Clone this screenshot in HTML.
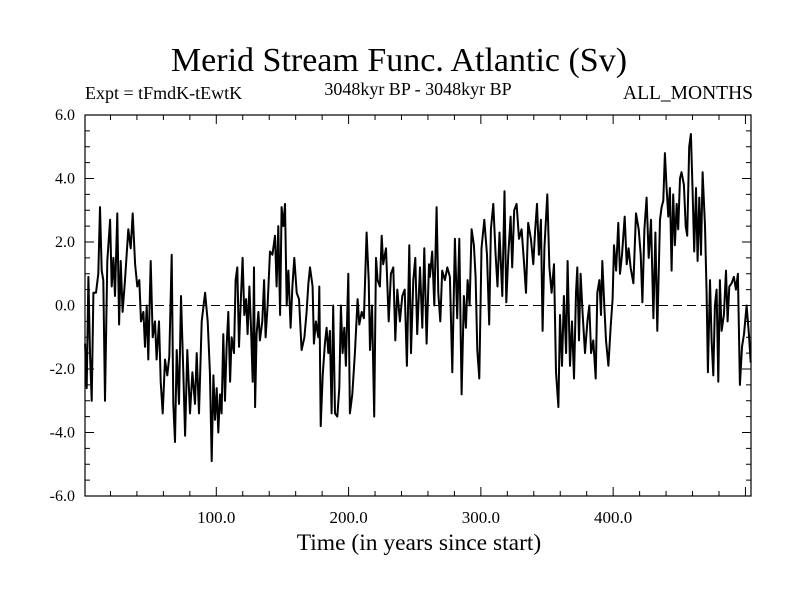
<!DOCTYPE html>
<html><head><meta charset="utf-8">
<style>
html,body{margin:0;padding:0;background:#fff;}
svg{display:block;font-family:"Liberation Serif",serif;}
</style></head>
<body>
<svg id="chart" width="800" height="600" viewBox="0 0 800 600">
<rect width="800" height="600" fill="#fff"/>
<text x="399" y="71" font-size="34" text-anchor="middle">Merid Stream Func. Atlantic (Sv)</text>
<text x="85" y="99" font-size="18">Expt = tFmdK-tEwtK</text>
<text x="418" y="95" font-size="18" text-anchor="middle">3048kyr BP - 3048kyr BP</text>
<text x="753" y="99" font-size="19.5" text-anchor="end">ALL_MONTHS</text>
<text x="419" y="550" font-size="23.5" text-anchor="middle">Time (in years since start)</text>
<g id="axes"></g>
<g id="plot"></g>
</svg>
<script>
const years = [0.8,2,3.3,4.5,5.8,7.1,9.1,10.8,12.1,13.4,14.6,15.9,17.6,19.7,20.9,22.2,23.4,25.2,26.5,27.7,29.2,31,33.5,35.3,36.8,38.6,40.3,41.8,43.1,44.9,46.1,47.4,48.6,50.4,51.9,53.7,54.9,56.7,58,59.5,61.2,63,64.5,66.3,67.5,68.8,70.1,71.8,73.3,75.1,76.4,78.1,80.1,81.9,83.9,85.2,86.9,89,91.5,93.5,95.2,96.5,97.8,99,100.3,101.5,102.8,104,105.3,106.6,107.8,109.1,110.4,111.6,113.4,114.6,115.9,117.2,118.4,119.9,121.2,122.5,123.7,125,126.2,127.5,128.5,129.3,130.5,131.8,133,134.8,136.1,137.3,138.8,140.6,142.4,144.4,145.6,146.9,148.2,149.4,150.7,151.9,153.2,154.5,156.2,157.5,159,160.8,162.5,164.5,166.6,168.3,169.6,170.8,172.8,173.8,175.3,177.1,177.9,178.9,180.4,182.1,183.4,184.7,185.9,187.2,188.4,189.7,191.5,193,194.2,195.5,196.8,198,199.8,201,202.8,204.8,206.8,208.1,209.9,211.6,213.6,215.2,216.2,217.7,219.4,220.7,221.9,223.7,225,226.2,228.3,230.3,232,233.8,235.3,236.8,238.8,240.6,242.4,244.1,245.9,247.2,248.9,250.4,251.9,254,255.7,257.2,259,260.8,261.5,263.2,264.8,266.5,267.8,269.3,270.8,272.8,274.6,276.6,278.4,280.4,282.1,283.7,285.4,287.2,288.7,290,291.5,293,294.7,296,297.3,298.8,300.5,302.6,304.6,306.3,307.6,309.4,311.1,312.6,314.1,316.2,317.9,319.2,320.7,322.5,323.7,325.2,327,328.8,330.8,332.5,334.1,335.8,337.8,339.6,340.9,342.4,343.9,345.4,346.7,348,350.2,351.8,353.5,355.3,356.8,358.6,359.8,361.3,362.8,364.4,365.6,367.4,368.9,370.4,371.9,372.9,374.2,375.4,377,378.7,380.5,382,383.3,385,386.8,388,389.6,390.8,391.8,393.3,394.6,396.4,398.1,399.6,400.6,402.2,403.9,405.2,406.7,408.7,410.2,411.7,413.2,415.3,417.3,419.3,420.8,422.1,423.6,425.3,426.9,428.6,430.4,431.9,433.4,435.4,436.6,437.9,439.1,440.4,441.7,442.9,444.2,445.4,446.7,448,449.2,450.5,451.7,453.5,454.8,456,457.5,458.8,460,461.3,462.6,463.8,465.1,466.4,467.6,469.4,470.6,471.6,473.2,474.4,475.7,476.9,478.2,479.5,480.7,482,483.7,485.3,486.5,487.8,489.5,491.3,492.8,494.3,495.8,497.4,498.9,500.9,502.6,504];
const values = [-1.2,-2.6,0.9,-1.5,-3.0,0.4,0.4,1.0,3.1,1.1,0.8,-3.0,1.4,2.7,0.6,1.5,0.3,2.9,-0.6,1.4,-0.2,0.8,2.4,1.8,2.9,1.3,0.6,0.8,-0.5,-0.2,-1.3,0,-1.7,1.4,-1.0,-0.5,-1.7,-0.5,-2.4,-3.4,-1.7,-2.2,-1.6,1.6,-3.1,-4.3,-1.4,-3.1,0.3,-2.2,-4.1,-1.4,-3.4,-2.1,-3.1,-1.5,-3.4,-0.5,0.4,-0.5,-2.1,-4.9,-2.2,-3.6,-2.6,-4.0,-2.8,-3.4,-0.9,-3.0,-1.3,-0.2,-2.4,-1.0,-1.5,0.8,1.2,-1.3,0,1.5,-0.3,0.2,-0.9,0.6,-0.7,-2.4,1.2,-3.2,-0.9,-0.2,-1.1,-0.5,0.8,-1.0,0,1.7,1.6,2.2,0.6,2.5,-0.3,3.1,2.5,3.2,0,1.1,-0.7,0.6,1.5,0.4,0.2,-1.4,-1.0,-0.2,0.7,1.2,0.6,-1.2,-0.5,-1.0,0.6,-3.8,-2.2,-1.2,-0.7,-1.5,-0.8,-3.4,0,-3.4,-3.5,-2.6,0,-1.5,-0.7,-1.9,1.0,-3.4,-2.8,-1.5,0.2,-0.6,-0.2,-0.4,2.3,0.8,-1.4,0,-3.5,1.5,0.8,0.6,2.2,1.3,1.8,-0.5,1.0,1.2,-1.1,0.5,-0.5,0.3,0.5,-1.9,1.9,-1.5,0.8,1.5,-0.9,1.2,-0.7,1.8,-1.2,1.3,0.9,1.7,0,3.1,0.4,-0.5,1.1,0.8,1.2,0.9,-2.1,2.1,-0.4,2.1,-2.8,0.3,-0.7,0.8,0,2.4,1.9,0.9,-1.4,-2.3,1.8,2.7,1.6,-0.6,2.4,3.2,1.6,0.6,2.3,0.3,3.6,0.1,1.6,2.8,1.2,3.0,3.2,2.1,2.4,1.4,0.4,2.6,2.1,1.3,2.3,3.2,1.6,2.7,-0.8,1.8,3.5,1.2,0.4,1.3,-2.1,-3.2,-0.3,-1.9,0.3,-1.5,1.4,-1.9,-0.5,-2.3,0.4,1.2,-1.1,1.0,-0.3,-1.5,-0.5,0,-1.5,-1.1,-2.3,0.4,0.8,-0.3,1.4,0,-1.1,-1.9,-0.7,0.2,1.9,1.1,2.6,1.0,1.6,2.8,1.3,1.8,1.2,0.7,2.9,2.4,1.6,0.1,2.4,3.4,1.5,2.7,-0.4,2.3,-0.8,2.7,3.1,3.3,4.8,3.7,2.8,3.7,1.1,3.5,1.9,3.2,2.4,4.0,4.2,3.8,2.5,2.2,5.0,5.4,3.7,1.7,3.7,1.4,3.4,1.6,4.2,2.5,0.4,-2.1,0.8,-1.1,-2.2,0,0.5,-2.4,0.8,-0.8,-0.3,1.1,-0.5,0.6,0.7,0.9,0.5,1.0,-2.5,-1.3,-0.9,0,-0.9,-1.8];
const yTickValues = [-6,-4,-2,0,2,4,6];
const yTickLabels = ["-6.0","-4.0","-2.0","0.0","2.0","4.0","6.0"];
const xTickValues = [100,200,300,400];
const xTickLabels = ["100.0","200.0","300.0","400.0"];

const L=85,R=751,T=115,B=496;
const xMin=0.75,xMax=504.2,yMin=-6,yMax=6;
function xs(v){return L+(v-xMin)/(xMax-xMin)*(R-L);}
function ys(v){return B-(v-yMin)/(yMax-yMin)*(B-T);}
const NS="http://www.w3.org/2000/svg";
const axes=document.getElementById('axes'), plot=document.getElementById('plot');
function mk(tag,attrs,parent){const e=document.createElementNS(NS,tag);for(const k in attrs)e.setAttribute(k,attrs[k]);parent.appendChild(e);return e;}

const frame=mk('rect',{x:L,y:T,width:R-L,height:B-T,fill:'none',stroke:'#000','stroke-width':1.2},axes);



const zero=mk('line',{x1:L,x2:R,y1:ys(0),y2:ys(0),stroke:'#000','stroke-width':1,'stroke-dasharray':'9,5'},axes);



for(let v=yMin;v<=yMax+1e-9;v+=0.5){
  const major=Math.abs(v/2-Math.round(v/2))<1e-9;
  const len=major?9:5;
  const t1=mk('line',{x1:L,x2:L+len,y1:ys(v),y2:ys(v),stroke:'#000'},axes);
  
  
  const t2=mk('line',{x1:R,x2:R-len,y1:ys(v),y2:ys(v),stroke:'#000'},axes);
  
  
}
yTickValues.forEach((v,i)=>{
  const t=mk('text',{x:75,y:ys(v)+5,'font-size':16,'text-anchor':'end'},axes);
  t.textContent=yTickLabels[i];
  
  
});
for(let v=20;v<xMax;v+=20){
  const major=v%100===0;
  const len=major?9:5;
  const t1=mk('line',{x1:xs(v),x2:xs(v),y1:B,y2:B-len,stroke:'#000'},axes);
  
  
  const t2=mk('line',{x1:xs(v),x2:xs(v),y1:T,y2:T+len,stroke:'#000'},axes);
  
  
}
xTickValues.forEach((v,i)=>{
  const t=mk('text',{x:xs(v),y:523,'font-size':17,'text-anchor':'middle'},axes);
  t.textContent=xTickLabels[i];
  
  
});

const pts=years.map((y,i)=>xs(y).toFixed(1)+','+ys(values[i]).toFixed(1)).join(' ');
const line=mk('polyline',{points:pts,fill:'none',stroke:'#000','stroke-width':2,'stroke-linejoin':'round'},plot);


</script>
</body></html>
